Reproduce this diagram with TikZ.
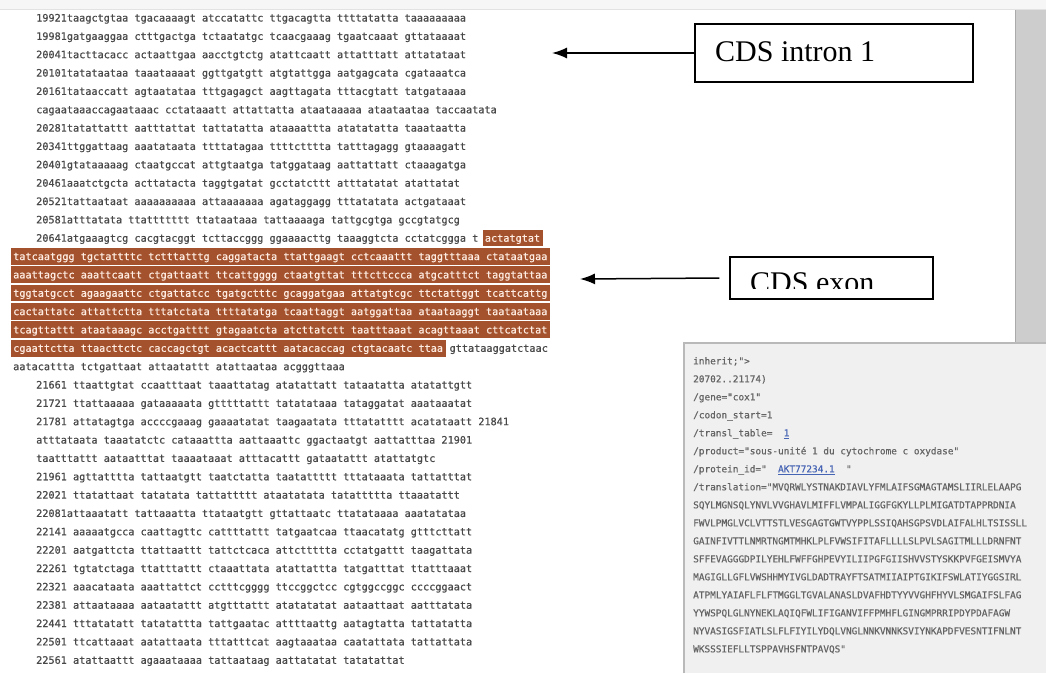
\documentclass[tikz,border=0pt]{standalone}
\usepackage{fontspec}
\usetikzlibrary{arrows.meta}
\newfontfamily\seqfont{DejaVu Sans Mono}[FakeBold=0.6]
\newfontfamily\lblfont{Liberation Serif}
\definecolor{seqgray}{RGB}{72,72,72}
\definecolor{hlbg}{RGB}{163,82,45}
\definecolor{hltext}{RGB}{255,236,226}
\definecolor{panelbg}{RGB}{240,240,240}
\definecolor{panelborder}{RGB}{185,185,185}
\definecolor{pangray}{RGB}{100,100,100}
\definecolor{linkblue}{RGB}{70,100,180}
\definecolor{scrollgray}{RGB}{205,205,205}
\definecolor{scrolledge}{RGB}{170,170,170}
\definecolor{topstrip}{RGB}{246,246,246}
\definecolor{topline}{RGB}{226,226,226}
\begin{document}
\begin{tikzpicture}[x=1pt,y=1pt,
  seq/.style={anchor=base west,inner sep=0pt,font=\seqfont\fontsize{10.2}{12}\selectfont,text=seqgray},
  hltxt/.style={seq,text=hltext},
  pan/.style={anchor=base west,inner sep=0pt,font=\seqfont\fontsize{9.4}{11}\selectfont,text=pangray},
  lbl/.style={anchor=base west,inner sep=0pt,font=\lblfont\fontsize{30}{34}\selectfont,text=black},
  labelbox/.style={draw=black,line width=1.3pt,inner sep=0pt,fill=white},
  arr/.style={line width=1.5pt,-{Latex[length=15pt,width=11pt]}},
  hlband/.style={fill=hlbg,draw=none}]
\useasboundingbox (0,0) rectangle (1046,-673);
\fill[white] (0,0) rectangle (1046,-673);
% top strip and scrollbar
\fill[topstrip] (0,0) rectangle (1046,-9);
\draw[topline,line width=1pt] (0,-9) -- (1046,-9);
\fill[scrollgray] (1015,-10) rectangle (1046,-343);
\draw[scrolledge,line width=1.5pt] (1015.5,-10) -- (1015.5,-343);
% highlight bands
\fill[hlband] (483,{-(18+18.35*12-8.6)}) rectangle (543,{-(18+18.35*12+8.2)});
\foreach \i in {13,...,17}
  \fill[hlband] (11,{-(18+18.35*\i-8.6)}) rectangle (550,{-(18+18.35*\i+8.2)});
\fill[hlband] (11,{-(18+18.35*18-8.6)}) rectangle (446,{-(18+18.35*18+8.2)});
% plain sequence rows
\foreach \i/\x/\t in {
 0/36/{19921taagctgtaa tgacaaaagt atccatattc ttgacagtta ttttatatta taaaaaaaaa},
 1/36/{19981gatgaaggaa ctttgactga tctaatatgc tcaacgaaag tgaatcaaat gttataaaat},
 2/36/{20041tacttacacc actaattgaa aacctgtctg atattcaatt attatttatt attatataat},
 3/36/{20101tatataataa taaataaaat ggttgatgtt atgtattgga aatgagcata cgataaatca},
 4/36/{20161tataaccatt agtaatataa tttgagagct aagttagata tttacgtatt tatgataaaa},
 5/36/{cagaataaaccagaataaac cctataaatt attattatta ataataaaaa ataataataa taccaatata},
 6/36/{20281tatattattt aatttattat tattatatta ataaaattta atatatatta taaataatta},
 7/36/{20341ttggattaag aaatataata ttttatagaa ttttctttta tatttagagg gtaaaagatt},
 8/36/{20401gtataaaaag ctaatgccat attgtaatga tatggataag aattattatt ctaaagatga},
 9/36/{20461aaatctgcta acttatacta taggtgatat gcctatcttt atttatatat atattatat},
 10/36/{20521tattaataat aaaaaaaaaa attaaaaaaa agataggagg tttatatata actgataaat},
 11/36/{20581atttatata ttattttttt ttataataaa tattaaaaga tattgcgtga gccgtatgcg},
 12/36/{20641atgaaagtcg cacgtacggt tcttaccggg ggaaaacttg taaaggtcta cctatcggga t},
 19/13/{aatacattta tctgattaat attaatattt atattaataa acgggttaaa},
 20/36/{21661 ttaattgtat ccaatttaat taaattatag atatattatt tataatatta atatattgtt},
 21/36/{21721 ttattaaaaa gataaaaata gtttttattt tatatataaa tataggatat aaataaatat},
 22/36/{21781 attatagtga accccgaaag gaaaatatat taagaatata tttatatttt acatataatt 21841},
 23/36/{atttataata taaatatctc cataaattta aattaaattc ggactaatgt aattatttaa 21901},
 24/36/{taatttattt aataatttat taaaataaat atttacattt gataatattt atattatgtc},
 25/36/{21961 agttatttta tattaatgtt taatctatta taatattttt tttataaata tattatttat},
 26/36/{22021 ttatattaat tatatata tattattttt ataatatata tatattttta ttaaatattt},
 27/36/{22081attaaatatt tattaaatta ttataatgtt gttattaatc ttatataaaa aaatatataa},
 28/36/{22141 aaaaatgcca caattagttc cattttattt tatgaatcaa ttaacatatg gtttcttatt},
 29/36/{22201 aatgattcta ttattaattt tattctcaca attcttttta cctatgattt taagattata},
 30/36/{22261 tgtatctaga ttatttattt ctaaattata atattattta tatgatttat ttatttaaat},
 31/36/{22321 aaacataata aaattattct cctttcgggg ttccggctcc cgtggccggc ccccggaact},
 32/36/{22381 attaataaaa aataatattt atgtttattt atatatatat aataattaat aatttatata},
 33/36/{22441 tttatatatt tatatattta tattgaatac attttaattg aatagtatta tattatatta},
 34/36/{22501 ttcattaaat aatattaata tttatttcat aagtaaataa caatattata tattattata},
 35/36/{22561 atattaattt agaaataaaa tattaataag aattatatat tatatattat}}
  \node[seq] (r\i) at (\x,{-(21.5+18.35*\i)}) {\t};
% highlighted rows
\node[hltxt] (r12b) at ([xshift=6.14pt]r12.base east) {actatgtat};
\foreach \i/\t in {
 13/{tatcaatggg tgctattttc tctttatttg caggatacta ttattgaagt cctcaaattt taggtttaaa ctataatgaa},
 14/{aaattagctc aaattcaatt ctgattaatt ttcattgggg ctaatgttat tttcttccca atgcatttct taggtattaa},
 15/{tggtatgcct agaagaattc ctgattatcc tgatgctttc gcaggatgaa attatgtcgc ttctattggt tcattcattg},
 16/{cactattatc attattctta tttatctata ttttatatga tcaattaggt aatggattaa ataataaggt taataataaa},
 17/{tcagttattt ataataaagc acctgatttt gtagaatcta atcttatctt taatttaaat acagttaaat cttcatctat},
 18/{cgaattctta ttaacttctc caccagctgt acactcattt aatacaccag ctgtacaatc ttaa}}
  \node[hltxt] (r\i) at (13,{-(21.5+18.35*\i)}) {\t};
\node[seq] (r18b) at ([xshift=6.14pt]r18.base east) {gttataaggatctaac};
% right panel
\fill[panelbg] (684,-343) rectangle (1046,-673);
\draw[panelborder,line width=1.2pt] (684,-673) -- (684,-343) -- (1046,-343);
\node[pan] (p0) at (693,-364.3) {inherit;">};
\node[pan] (p1) at (693,-382.3) {20702..21174)};
\node[pan] (p2) at (693,-400.3) {/gene="cox1"};
\node[pan] (p3) at (693,-418.3) {/codon\_start=1};
\node[pan] (p4) at (693,-436.3) {/transl\_table=\ \ {\color{linkblue}\underline{1}}};
\node[pan] (p5) at (693,-454.3) {/product="sous-unité 1 du cytochrome c oxydase"};
\node[pan] (p6) at (693,-472.3) {/protein\_id="\ \ {\color{linkblue}\underline{AKT77234.1}}\ \ "};
\node[pan] (p7) at (693,-490.3) {/translation="MVQRWLYSTNAKDIAVLYFMLAIFSGMAGTAMSLIIRLELAAPG};
\node[pan] (p8) at (693,-508.3) {SQYLMGNSQLYNVLVVGHAVLMIFFLVMPALIGGFGKYLLPLMIGATDTAPPRDNIA};
\node[pan] (p9) at (693,-526.3) {FWVLPMGLVCLVTTSTLVESGAGTGWTVYPPLSSIQAHSGPSVDLAIFALHLTSISSLL};
\node[pan] (p10) at (693,-544.3) {GAINFIVTTLNMRTNGMTMHKLPLFVWSIFITAFLLLLSLPVLSAGITMLLLDRNFNT};
\node[pan] (p11) at (693,-562.3) {SFFEVAGGGDPILYEHLFWFFGHPEVYILIIPGFGIISHVVSTYSKKPVFGEISMVYA};
\node[pan] (p12) at (693,-580.3) {MAGIGLLGFLVWSHHMYIVGLDADTRAYFTSATMIIAIPTGIKIFSWLATIYGGSIRL};
\node[pan] (p13) at (693,-598.3) {ATPMLYAIAFLFLFTMGGLTGVALANASLDVAFHDTYYVVGHFHYVLSMGAIFSLFAG};
\node[pan] (p14) at (693,-616.3) {YYWSPQLGLNYNEKLAQIQFWLIFIGANVIFFPMHFLGINGMPRRIPDYPDAFAGW};
\node[pan] (p15) at (693,-634.3) {NYVASIGSFIATLSLFLFIYILYDQLVNGLNNKVNNKSVIYNKAPDFVESNTIFNLNT};
\node[pan] (p16) at (693,-652.3) {WKSSSIEFLLTSPPAVHSFNTPAVQS"};
% label boxes
\node[labelbox,minimum width=278pt,minimum height=58pt] (intron) at (834,-53) {};
\node[lbl] (introntext) at (715,-61) {CDS intron 1};
\node[labelbox,minimum width=203pt,minimum height=42pt] (exon) at (831.5,-278) {};
\begin{scope}
  \clip (731,-258) rectangle (932,-288);
  \node[lbl] (exontext) at (750,-292) {CDS exon};
\end{scope}
% arrows
\coordinate (tipA) at (552,-53);
\coordinate (tipB) at (580,-279);
\draw[arr] (intron.west) -- (tipA);
\draw[arr] ([xshift=-10pt]exon.west) -- (tipB);
\end{tikzpicture}
\end{document}
